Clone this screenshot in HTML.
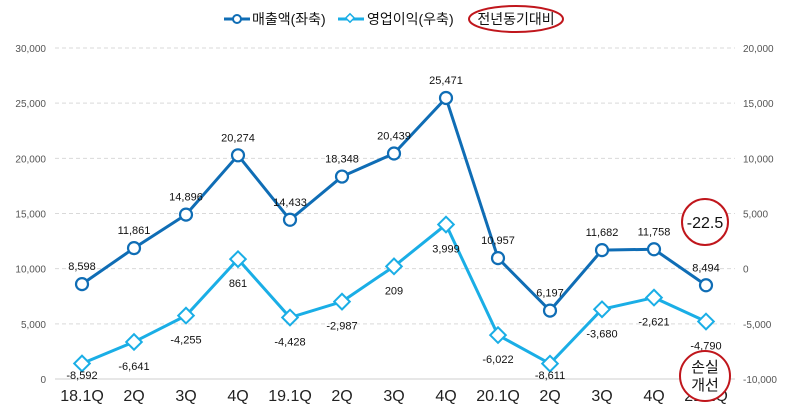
<!DOCTYPE html>
<html><head><meta charset="utf-8"><style>
body{margin:0;background:#fff;}
svg{display:block;font-family:"Liberation Sans","Noto Sans CJK KR",sans-serif;}
</style></head><body>
<svg id="c" width="788" height="410">
<g id="grid"></g>
<g id="axes"></g>
<g id="series"></g>
<g>
 <g>
  <line x1="224" y1="19" x2="250" y2="19" stroke="#0f6db5" stroke-width="3"/>
  <circle cx="237" cy="19" r="4" fill="#fff" stroke="#0f6db5" stroke-width="2"/>
  <text x="252" y="24" font-size="14" fill="#111">매출액(좌축)</text>
 </g>
 <g>
  <line x1="338" y1="19" x2="364" y2="19" stroke="#1aaee6" stroke-width="3"/>
  <rect x="347" y="15" width="6" height="6" transform="rotate(45 350 18)" fill="#fff" stroke="#1aaee6" stroke-width="1.5"/>
  <text x="367" y="24" font-size="14" fill="#111">영업이익(우축)</text>
 </g>
 <g>
  <ellipse cx="516" cy="19" rx="47" ry="13" fill="none" stroke="#c0161c" stroke-width="2"/>
  <text x="516" y="24" font-size="14" fill="#111" text-anchor="middle">전년동기대비</text>
 </g>
</g>
<g>
 <circle cx="705" cy="222" r="23" fill="#fff" stroke="#c0161c" stroke-width="2"/>
 <text x="705" y="228" font-size="16" text-anchor="middle" fill="#111">-22.5</text>
</g>
<g>
 <circle cx="705" cy="376" r="25" fill="#fff" stroke="#c0161c" stroke-width="2"/>
 <text x="705" y="372" font-size="15" text-anchor="middle" fill="#111">손실</text>
 <text x="705" y="390" font-size="15" text-anchor="middle" fill="#111">개선</text>
</g>
</svg>
<script>
const categories=["18.1Q","2Q","3Q","4Q","19.1Q","2Q","3Q","4Q","20.1Q","2Q","3Q","4Q","21.1Q"];
const sales=[8598,11861,14896,20274,14433,18348,20439,25471,10957,6197,11682,11758,8494];
const opProfit=[-8592,-6641,-4255,861,-4428,-2987,209,3999,-6022,-8611,-3680,-2621,-4790];
const leftTicks=[0,5000,10000,15000,20000,25000,30000];
const rightTicks=[-10000,-5000,0,5000,10000,15000,20000];
const NS="http://www.w3.org/2000/svg";
const plotTop=48,plotBot=379;
const x=i=>82+i*52;
const yL=v=>plotBot-(v/30000)*(plotBot-plotTop);
const yR=v=>plotBot-((v+10000)/30000)*(plotBot-plotTop);
const fmt=v=>(v<0?"-":"")+Math.abs(v).toLocaleString("en-US");
function mk(tag,attrs,parent,txt){const e=document.createElementNS(NS,tag);for(const k in attrs)e.setAttribute(k,attrs[k]);if(txt!==undefined)e.textContent=txt;parent.appendChild(e);return e;}
const grid=document.getElementById('grid'),axes=document.getElementById('axes'),ser=document.getElementById('series');
leftTicks.forEach(t=>{
 const y=yL(t);
 const a={x1:55,x2:735,y1:y,y2:y,stroke:t===0?'#cfcfcf':'#d9d9d9'};
 if(t!==0)a['stroke-dasharray']='4,3';
 const l=mk('line',a,grid);
 
 
 const tx=mk('text',{x:46,y:y+4,'font-size':10,'text-anchor':'end',fill:'#555'},axes,fmt(t));
 
 
});
rightTicks.forEach(t=>{
 const tx=mk('text',{x:743,y:yR(t)+4,'font-size':10,fill:'#555'},axes,fmt(t));
 
 
});
categories.forEach((c,i)=>{
 const tx=mk('text',{x:x(i),y:401,'font-size':16,'text-anchor':'middle',fill:'#222'},axes,c);
 
 
});
const p1=mk('polyline',{points:sales.map((v,i)=>x(i)+','+yL(v)).join(' '),fill:'none',stroke:'#0f6db5','stroke-width':3},ser);


const p2=mk('polyline',{points:opProfit.map((v,i)=>x(i)+','+yR(v)).join(' '),fill:'none',stroke:'#1aaee6','stroke-width':3},ser);


sales.forEach((v,i)=>{
 const c=mk('circle',{cx:x(i),cy:yL(v),r:6,fill:'#fff',stroke:'#0f6db5','stroke-width':2.2},ser);
 
 
 const t=mk('text',{x:x(i),y:yL(v)-14,'font-size':11,'text-anchor':'middle',fill:'#111'},ser,fmt(v));
 
 
});
opProfit.forEach((v,i)=>{
 const cx=x(i),cy=yR(v);
 const r=mk('rect',{x:cx-5.5,y:cy-5.5,width:11,height:11,transform:`rotate(45 ${cx} ${cy})`,fill:'#fff',stroke:'#1aaee6','stroke-width':2},ser);
 
 
 const t=mk('text',{x:cx,y:Math.min(cy+28,379),'font-size':11,'text-anchor':'middle',fill:'#111'},ser,fmt(v));
 
 
});
</script>
</body></html>
